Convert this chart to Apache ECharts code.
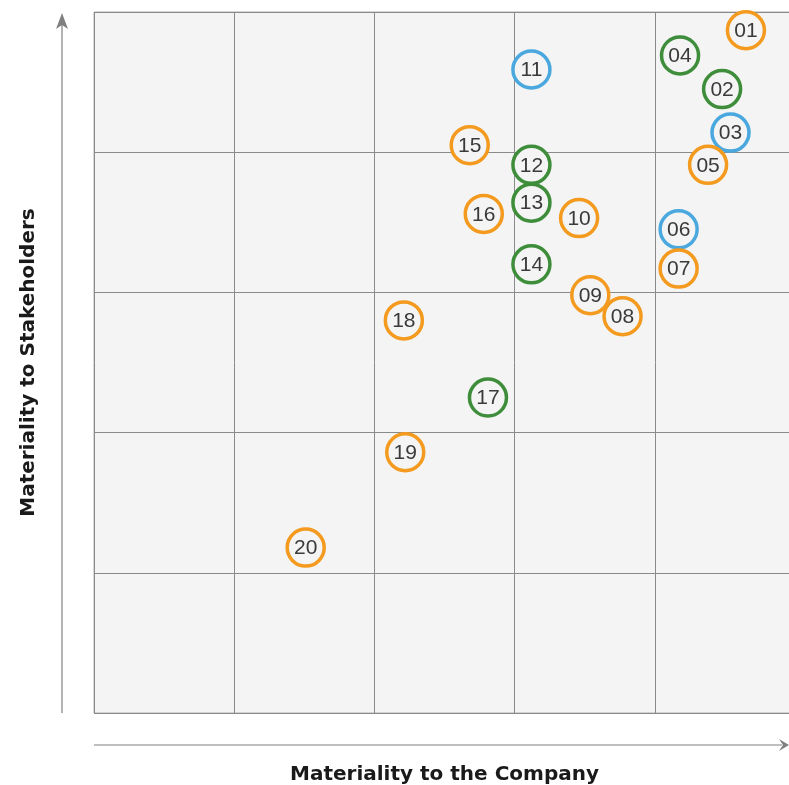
<!DOCTYPE html>
<html>
<head>
<meta charset="utf-8">
<script src="https://cdn.jsdelivr.net/npm/echarts@6/dist/echarts.min.js"></script>
<style>
html,body{margin:0;padding:0;background:#fff;}
#chart{width:789px;height:785px;}
</style>
</head>
<body>
<div id="chart"></div>
<script>
const labels = ['01','02','03','04','05','06','07','08','09','10','11','12','13','14','15','16','17','18','19','20'];
const companyScores = [4.65,4.48,4.54,4.18,4.38,4.17,4.17,3.77,3.54,3.46,3.12,3.12,3.12,3.12,2.68,2.78,2.81,2.21,2.22,1.51];
const stakeholderScores = [4.87,4.45,4.14,4.69,3.91,3.45,3.17,2.83,2.98,3.53,4.59,3.91,3.64,3.20,4.05,3.56,2.25,2.80,1.86,1.18];
const groups = ['orange','green','blue','green','orange','blue','orange','orange','orange','orange','blue','green','green','green','orange','orange','green','orange','orange','orange'];
const groupNames = ['blue','green','orange'];
const groupColors = {orange:'#f39a1f', green:'#3e8d3a', blue:'#4aa8df'};
const xTitle = 'Materiality to the Company';
const yTitle = 'Materiality to Stakeholders';

const bg = '#f3f4f3';
const series = groupNames.map(g => ({
  type:'scatter',
  symbol:'circle',
  symbolSize:37,
  itemStyle:{color:bg, borderColor:groupColors[g], borderWidth:3.5, opacity:1},
  label:{show:true, position:'inside', formatter:p=>p.name, fontSize:21, color:'#3a3a3a', fontFamily:'Liberation Sans, Arial, sans-serif', offset:[0,1]},
  emphasis:{disabled:true},
  data: labels.map((l,i)=>({name:l, value:[companyScores[i], stakeholderScores[i]], g:groups[i]})).filter(d=>d.g===g).map(d=>({name:d.name,value:d.value}))
}));

const chart = echarts.init(document.getElementById('chart'), null, {renderer:'canvas'});
const axisCommon = {
  type:'value', min:0, max:5, interval:1,
  axisLine:{show:false}, axisTick:{show:false}, axisLabel:{show:false},
  splitLine:{show:true, lineStyle:{color:'#8a8a8a', width:1}},
  nameLocation:'middle',
  nameTextStyle:{fontSize:20, fontWeight:'bold', color:'#1a1a1a', fontFamily:'DejaVu Sans, Liberation Sans, sans-serif'}
};
chart.setOption({
  animation:false,
  backgroundColor:'#ffffff',
  grid:{left:94, top:12, width:701, height:701, show:true, backgroundColor:bg, borderColor:'#b0b0b0', borderWidth:1, outerBoundsMode:'none', containLabel:false},
  xAxis:Object.assign({}, axisCommon, {name:xTitle, nameGap:52}),
  yAxis:Object.assign({}, axisCommon, {name:yTitle, nameGap:55}),
  series:series,
  graphic:[
    {type:'line', shape:{x1:62, y1:713, x2:62, y2:22}, style:{stroke:'#808080', lineWidth:1.2}},
    {type:'polygon', shape:{points:[[62,13],[68,29],[62,25],[56,29]]}, style:{fill:'#808080'}},
    {type:'line', shape:{x1:94, y1:745, x2:782, y2:745}, style:{stroke:'#808080', lineWidth:1.2}},
    {type:'polygon', shape:{points:[[789,745],[779,739],[783,745],[779,751]]}, style:{fill:'#808080'}}
  ]
});
</script>
</body>
</html>
